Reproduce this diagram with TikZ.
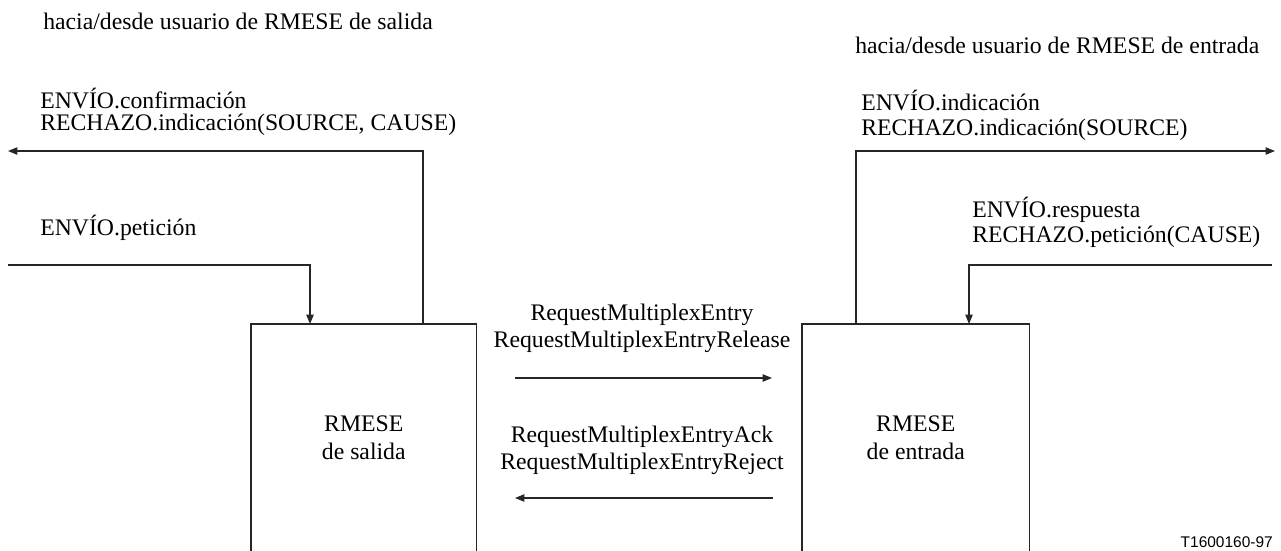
\documentclass[tikz,border=0pt]{standalone}
\usepackage{fontspec}
\setmainfont{Liberation Serif}
\setsansfont{Liberation Sans}
\usetikzlibrary{arrows.meta}
\begin{document}
\begin{tikzpicture}[x=0.75pt,y=-0.75pt,
  lbl/.style={inner sep=0pt,anchor=west,font=\fontsize{17.8}{21}\selectfont},
  clbl/.style={inner sep=0pt,font=\fontsize{17.8}{21}\selectfont},
  conn/.style={line width=0.8pt,draw=black!85},
  arr/.style={conn,-{Triangle[length=7pt,width=5.5pt]}},
  boxside/.style={line width=0.8pt,draw=black!85}]
\useasboundingbox (0,0) rectangle (1281,550);
% boxes
\node[clbl,minimum width=225*0.75pt,minimum height=226*0.75pt,anchor=north west,align=center] (ls) at (251,324) {RMESE\\de salida};
\node[clbl,minimum width=227*0.75pt,minimum height=226*0.75pt,anchor=north west,align=center] (rs) at (802,324) {RMESE\\de entrada};
\draw[boxside] (ls.south west) -- (ls.north west) -- (ls.north east) -- (ls.south east);
\draw[boxside] (rs.south west) -- (rs.north west) -- (rs.north east) -- (rs.south east);
% header labels
\node[lbl] (hl) at (43,21) {hacia/desde usuario de RMESE de salida};
\node[lbl] (hr) at (855,45) {hacia/desde usuario de RMESE de entrada};
% left labels
\node[lbl] (l1) at (40,98) {ENVÍO.confirmación};
\node[lbl] (l2) at (40,125) {RECHAZO.indicación(SOURCE, CAUSE)};
\node[lbl] (l3) at (40,228) {ENVÍO.petición};
% right labels
\node[lbl] (r1) at (861,100) {ENVÍO.indicación};
\node[lbl] (r2) at (861,130) {RECHAZO.indicación(SOURCE)};
\node[lbl] (r3) at (972,210) {ENVÍO.respuesta};
\node[lbl] (r4) at (972,237) {RECHAZO.petición(CAUSE)};
% middle labels
\node[clbl] (m1) at (642,315) {RequestMultiplexEntry};
\node[clbl] (m2) at (642,342) {RequestMultiplexEntryRelease};
\node[clbl] (m3) at (642,437) {RequestMultiplexEntryAck};
\node[clbl] (m4) at (642,464) {RequestMultiplexEntryReject};
\node[inner sep=0pt,anchor=east,font=\sffamily\fontsize{11.6}{13}\selectfont] (tag) at (1273,542) {T1600160-97};
% connector coordinates
\coordinate (loA) at (423,324);
\coordinate (loB) at (8,151);
\coordinate (liA) at (8,265);
\coordinate (liB) at (310,324);
\coordinate (roA) at (856,324);
\coordinate (roB) at (1275,151);
\coordinate (riA) at (1272,265);
\coordinate (riB) at (969,324);
\coordinate (t1) at (515,378);
\coordinate (t2) at (772,378);
\coordinate (b1) at (773,498);
\coordinate (b2) at (515,498);
% connectors
\draw[arr] (loA) |- (loB);
\draw[arr] (liA) -| (liB);
\draw[arr] (roA) |- (roB);
\draw[arr] (riA) -| (riB);
\draw[arr] (t1) -- (t2);
\draw[arr] (b1) -- (b2);
\end{tikzpicture}
\end{document}
